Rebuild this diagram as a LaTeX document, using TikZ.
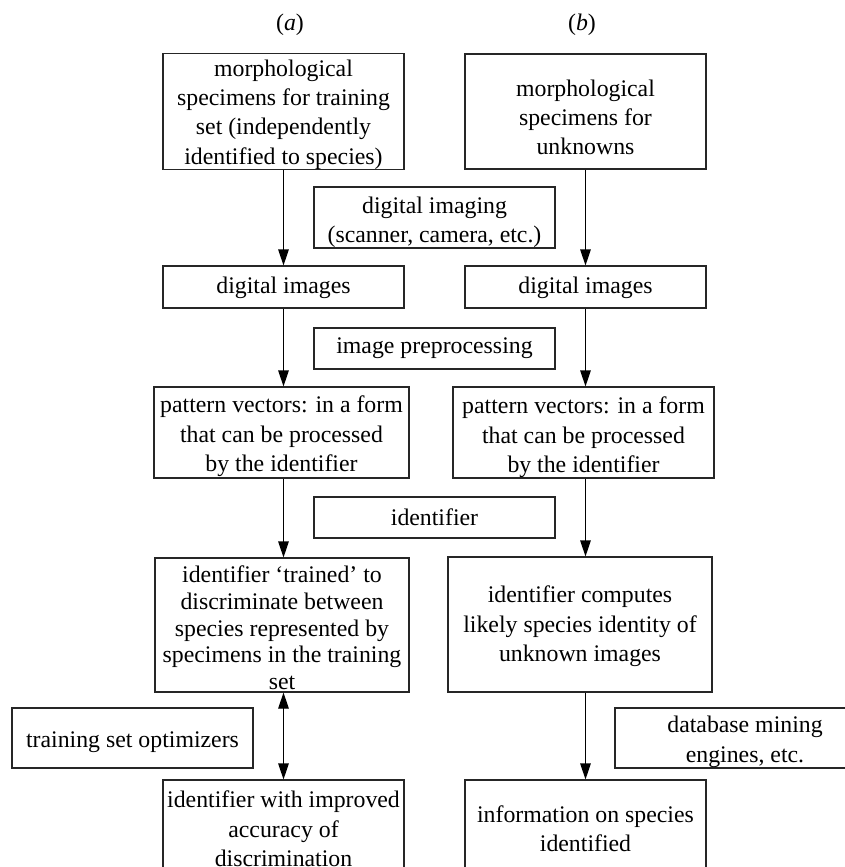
\documentclass[tikz,border=0pt]{standalone}
\usepackage{fontspec}
\setmainfont{Liberation Serif}
\usetikzlibrary{arrows.meta}
\newcommand\dn[1]{\rule{0pt}{#1pt}}
\begin{document}
\begin{tikzpicture}[x=1pt,y=-1pt,
  bx/.style={draw=black!85, line width=1.1pt, rectangle, inner sep=0pt, align=center,
     font=\fontsize{23.8}{29.3}\selectfont},
  arr/.style={line width=1.1pt, -{Triangle[length=16pt,width=10.5pt]}},
  darr/.style={line width=1.1pt, {Triangle[length=16pt,width=10.5pt]}-{Triangle[length=16pt,width=10.5pt]}},
  lbl/.style={font=\fontsize{23.8}{29}\selectfont, inner sep=0pt}]
\fill[white] (0,0) rectangle (845,867);
\useasboundingbox (0,0) rectangle (845,867);

\node[lbl] (la) at (290,25) {(\textit{a})};
\node[lbl] (lb) at (582,25) {(\textit{b})};

\node[bx, minimum width=241pt, minimum height=115pt] (A1) at (283.5,111.5)
  {\dn{22.4}morphological\\specimens for training\\set (independently\\identified to species)};
\node[bx, minimum width=241pt, minimum height=115pt] (B1) at (585.5,111.5)
  {\dn{28.4}morphological\\specimens for\\unknowns};
\node[bx, minimum width=241pt, minimum height=61pt] (DI) at (434.5,217.5)
  {\dn{26.4}digital imaging\\(scanner, camera, etc.)};
\node[bx, minimum width=241pt, minimum height=42pt] (A2) at (283.5,287) {\dn{18}digital images};
\node[bx, minimum width=241pt, minimum height=42pt] (B2) at (585.5,287) {\dn{18}digital images};
\node[bx, minimum width=241pt, minimum height=41pt] (IP) at (434.5,348.5) {image preprocessing};
\node[bx, minimum width=255pt, minimum height=91pt] (A3) at (281.5,432.5)
  {\dn{24.4}pattern vectors: in a form\\that can be processed\\by the identifier};
\node[bx, minimum width=261pt, minimum height=91pt] (B3) at (583.5,432.5)
  {\dn{26.4}pattern vectors: in a form\\that can be processed\\by the identifier};
\node[bx, minimum width=241pt, minimum height=41pt] (ID) at (434.5,517.5) {identifier};
\node[bx, minimum width=254pt, minimum height=134pt, font=\fontsize{23.8}{26.8}\selectfont] (A4) at (282,625)
  {\dn{22.4}identifier ‘trained’ to\\discriminate between\\species represented by\\specimens in the training\\set};
\node[bx, minimum width=264pt, minimum height=135pt] (B4) at (580,624.5)
  {\dn{20.4}identifier computes\\likely species identity of\\unknown images};
\node[bx, minimum width=241pt, minimum height=60pt] (TSO) at (132.5,738) {\dn{23.4}training set optimizers};
\node[bx, minimum width=260pt, minimum height=60pt] (DB) at (745,738)
  {\dn{24.4}database mining\\engines, etc.};
\node[bx, minimum width=241pt, minimum height=98pt] (A5) at (283.5,829)
  {identifier with improved\\accuracy of\\discrimination};
\node[bx, minimum width=241pt, minimum height=98pt] (B5) at (585.5,829)
  {information on species\\identified};

\draw[arr] (A1.south) -- (A2.north);
\draw[arr] (A2.south) -- (A2.south |- A3.north);
\draw[arr] (A2.south |- A3.south) -- (A2.south |- A4.north);
\draw[darr] (A2.south |- A4.south) -- (A5.north);

\draw[arr] (B1.south) -- (B2.north);
\draw[arr] (B2.south) -- (B2.south |- B3.north);
\draw[arr] (B2.south |- B3.south) -- (B2.south |- B4.north);
\draw[arr] (B5.north |- B4.south) -- (B5.north);
\end{tikzpicture}
\end{document}
